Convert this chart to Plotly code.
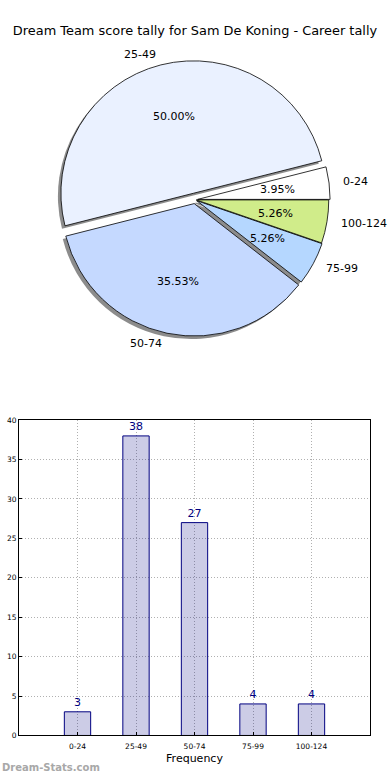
import math
import plotly.graph_objects as go

categories = ["0-24", "25-49", "50-74", "75-99", "100-124"]
counts = [3, 38, 27, 4, 4]
slice_colors = ["#FFFFFF", "#EAF1FF", "#C5D9FF", "#B5D7FF", "#D0EC8A"]
pulls = [0.02, 0.05, 0.03, 0.015, 0.01]
y_ticks = [0, 5, 10, 15, 20, 25, 30, 35, 40]

W, H = 390, 780
FONT = "DejaVu Sans"

# pie geometry (pixels)
R = 134
maxpull = max(pulls)
cx, cy = 195, 198
size = 2 * R * (1 + maxpull)
sx, sy = 3, 3  # shadow offset
K = 1.35  # overlay axes extent factor

def dom(cx, cy, f=1.0):
    s = size * f
    return dict(x=[(cx - s / 2) / W, (cx + s / 2) / W],
                y=[(H - cy - s / 2) / H, (H - cy + s / 2) / H])

total = sum(counts)
rotation = 90 - 360 * counts[0] / total

common = dict(labels=categories, values=counts, sort=False, direction="counterclockwise",
              rotation=rotation, pull=pulls, hoverinfo="skip", showlegend=False,
              textinfo="none")

fig = go.Figure()
# shadow
fig.add_trace(go.Pie(**common, domain=dom(cx - sx, cy + sy),
                     marker=dict(colors=["rgba(0,0,0,0.45)"] * 5, line=dict(width=0))))
# main pie
fig.add_trace(go.Pie(**common, domain=dom(cx, cy),
                     marker=dict(colors=slice_colors, line=dict(color="black", width=0.8))))

# texts placed on a hidden axis pair overlaying the pie (1 unit = pie radius)
annotations = []
cum = 0
for cat, v, p in zip(categories, counts, pulls):
    th = 2 * math.pi * (cum + v / 2) / total
    cum += v
    c, s = math.cos(th), math.sin(th)
    annotations.append(dict(x=(p + 0.6) * c, y=(p + 0.6) * s, xref="x2", yref="y2",
                            text=f"{100 * v / total:.2f}%", showarrow=False,
                            xanchor="center", yanchor="middle",
                            font=dict(family=FONT, size=11, color="black")))
    annotations.append(dict(x=(p + 1.08) * c, y=(p + 1.08) * s, xref="x2", yref="y2",
                            text=cat, showarrow=False,
                            xanchor="left" if c > 0 else "right", yanchor="middle",
                            font=dict(family=FONT, size=11, color="black")))

# bar chart
fig.add_trace(go.Bar(x=categories, y=counts, width=0.45,
                     marker=dict(color="rgba(0,0,128,0.2)", line=dict(color="#000080", width=1)),
                     text=[str(c) for c in counts], textposition="outside",
                     textfont=dict(family=FONT, size=11, color="#000080"),
                     cliponaxis=False, showlegend=False, hoverinfo="skip"))

annotations.append(dict(text="<b>Dream-Stats.com</b>", xref="paper", yref="paper",
                        x=0, y=0, xanchor="left", yanchor="bottom", showarrow=False,
                        font=dict(family=FONT, size=10, color="#a8a8a8")))

od = dom(cx, cy, K)
ext = (1 + maxpull) * K
grid = dict(showgrid=True, griddash="1px,2px", gridcolor="#b0b0b0", gridwidth=1,
            showline=True, mirror=True, linecolor="black", linewidth=1,
            ticks="inside", ticklen=3, tickcolor="black",
            tickfont=dict(family=FONT, size=7.5, color="black"), zeroline=False)

fig.update_layout(
    width=W, height=H, margin=dict(l=0, r=0, t=0, b=0),
    paper_bgcolor="white", plot_bgcolor="white",
    font=dict(family=FONT, color="black"),
    title=dict(text="Dream Team score tally for Sam De Koning - Career tally",
               x=0.5, xanchor="center", y=1 - 30 / H, yanchor="middle", yref="container",
               font=dict(family=FONT, size=12.9, color="black")),
    xaxis=dict(domain=[19 / W, 370 / W], range=[-1, 5], type="category",
               ticklabelstandoff=4,
               title=dict(text="Frequency", font=dict(family=FONT, size=11), standoff=3),
               anchor="y", **grid),
    yaxis=dict(domain=[40 / H, 359 / H], range=[0, 40], tickvals=y_ticks, anchor="x", **grid),
    xaxis2=dict(domain=od["x"], range=[-ext, ext], visible=False,
                anchor="y2", fixedrange=True),
    yaxis2=dict(domain=od["y"], range=[-ext, ext], visible=False,
                anchor="x2", fixedrange=True),
    bargap=0,
    annotations=annotations,
)

fig.write_html("out.html", config={"displayModeBar": False, "staticPlot": True},
               post_script="document.body.style.margin='0';document.body.style.overflow='hidden';")
